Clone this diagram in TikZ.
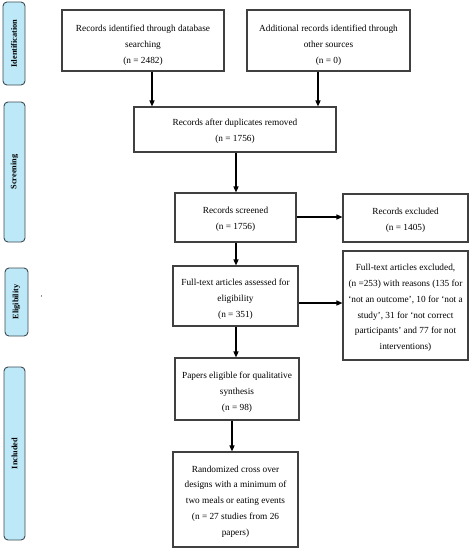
\documentclass[tikz,border=0pt]{standalone}
\usepackage{fontspec}
\setmainfont{Liberation Serif}
\usetikzlibrary{arrows.meta}
\definecolor{sidefill}{HTML}{BDE8F8}
\definecolor{sidedraw}{HTML}{3C4A52}
\definecolor{boxdraw}{HTML}{404040}
\begin{document}
\begin{tikzpicture}[x=1pt,y=-1pt,
  flowbox/.style={draw=boxdraw,line width=1.1pt,fill=white,inner sep=0pt},
  flowtext/.style={align=center,inner sep=0pt,font=\fontsize{9.3}{15.8}\selectfont},
  sidebox/.style={draw=sidedraw,line width=0.9pt,fill=sidefill,rounded corners=4pt,inner sep=0pt},
  sidetext/.style={rotate=90,font=\fontsize{8.3}{9}\selectfont\bfseries},
  arr/.style={-{Triangle[length=6pt,width=5pt]},line width=1.2pt,black}]
\useasboundingbox (0,0) rectangle (472,550);
% side labels
\node[sidebox,minimum width=22pt,minimum height=83pt] (sid) at (14,43.5) {};
\node[sidetext] (tid) at (sid.center) {Identification};
\node[sidebox,minimum width=21pt,minimum height=140pt] (ssc) at (14.5,172) {};
\node[sidetext] (tsc) at (ssc.center) {Screening};
\node[sidebox,minimum width=23pt,minimum height=68pt] (sel) at (16.5,302) {};
\node[sidetext] (tel) at (sel.center) {Eligibility};
\node[sidebox,minimum width=21pt,minimum height=173pt] (sin) at (14.5,453.5) {};
\node[sidetext] (tin) at (sin.center) {Included};
\node[font=\fontsize{7}{8}\selectfont] (mark) at (41.5,298) {'};
% boxes
\node[flowbox,minimum width=162pt,minimum height=61pt] (b1) at (143,40.5) {};
\node[flowtext] (t1) at ([yshift=-5pt]b1.center)
  {Records identified through database\\searching\\(n = 2482)};
\node[flowbox,minimum width=163pt,minimum height=61pt] (b2) at (328.5,40.5) {};
\node[flowtext] (t2) at ([yshift=-5pt]b2.center)
  {Additional records identified through\\other sources\\(n = 0)};
\node[flowbox,minimum width=202pt,minimum height=45pt] (b3) at (235,129.5) {};
\node[flowtext] (t3) at ([yshift=-2pt]b3.center)
  {Records after duplicates removed\\(n = 1756)};
\node[flowbox,minimum width=121pt,minimum height=49pt] (b4) at (235.5,217.5) {};
\node[flowtext] (t4) at ([yshift=-2pt]b4.center)
  {Records screened\\(n = 1756)};
\node[flowbox,minimum width=125pt,minimum height=48pt] (b5) at (405.5,218) {};
\node[flowtext] (t5) at ([yshift=-2pt]b5.center)
  {Records excluded\\(n = 1405)};
\node[flowbox,minimum width=125pt,minimum height=60pt] (b6) at (235.5,296) {};
\node[flowtext] (t6) at ([yshift=-3pt]b6.center)
  {Full-text articles assessed for\\eligibility\\(n = 351)};
\node[flowbox,minimum width=125pt,minimum height=109pt] (b7) at (405.5,305.5) {};
\node[flowtext] (t7) at ([yshift=-2.5pt]b7.center)
  {Full-text articles excluded,\\(n =253) with reasons (135 for\\‘not an outcome’, 10 for ‘not a\\study’, 31 for ‘not correct\\participants’ and 77 for not\\interventions)};
\node[flowbox,minimum width=124pt,minimum height=62pt] (b8) at (237,389) {};
\node[flowtext] (t8) at ([yshift=-3pt]b8.center)
  {Papers eligible for qualitative\\synthesis\\(n = 98)};
\node[flowbox,minimum width=125pt,minimum height=95pt] (b9) at (235.5,499.5) {};
\node[flowtext] (t9) at ([yshift=-2pt]b9.center)
  {Randomized cross over\\designs with a minimum of\\two meals or eating events\\(n = 27 studies from 26\\papers)};
% arrows
\draw[arr] ([xshift=9pt]b1.south) -- ([xshift=9pt]b1.south |- b3.north);
\draw[arr] ([xshift=-10.5pt]b2.south) -- ([xshift=-10.5pt]b2.south |- b3.north);
\draw[arr] ([xshift=1pt]b3.south) -- ([xshift=1pt]b3.south |- b4.north);
\draw[arr] ([yshift=0.5pt]b4.east) -- ([yshift=0.5pt]b4.east -| b5.west);
\draw[arr] ([xshift=0.5pt]b4.south) -- ([xshift=0.5pt]b4.south |- b6.north);
\draw[arr] ([yshift=-7pt]b6.east) -- ([yshift=-7pt]b6.east -| b7.west);
\draw[arr] ([xshift=0.5pt]b6.south) -- ([xshift=0.5pt]b6.south |- b8.north);
\draw[arr] ([xshift=-5pt]b8.south) -- ([xshift=-5pt]b8.south |- b9.north);
\end{tikzpicture}
\end{document}
